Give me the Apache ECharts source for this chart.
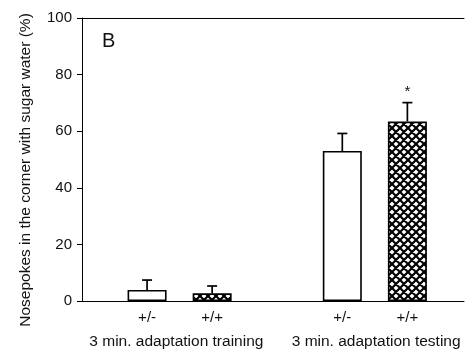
<!DOCTYPE html>
<html>
<head>
<meta charset="utf-8">
<script src="https://cdn.jsdelivr.net/npm/echarts@6/dist/echarts.min.js"></script>
<style>
    html, body { margin: 0; padding: 0; background: #fff; }
    #chart { width: 467px; height: 356px; }
</style>
</head>
<body>
<div id="chart"></div>
<script>
// data
const genotypes = ['+/-', '+/+', '+/-', '+/+']
const barPos = [1, 2, 4, 5]
const means = [3.9, 2.7, 53, 63.4]
const sems = [3.5, 2.6, 6.2, 6.7]
const stars = ['', '', '', '*']
const groups = ['3 min. adaptation training', '3 min. adaptation testing']
const groupPos = [1.45, 4.52]
const hatched = [false, true, false, true]

const FONT = '"Liberation Sans", Arial, sans-serif'
const INK = '#111'
const X_MAX = 5.87

// crosshatch fill for +/+ bars
const makeHatch = () => {
    const s = 8
    const c = document.createElement('canvas')
    c.width = s
    c.height = s
    const ctx = c.getContext('2d')
    ctx.fillStyle = '#fff'
    ctx.fillRect(0, 0, s, s)
    ctx.strokeStyle = '#000'
    ctx.lineWidth = 2.2
    ctx.beginPath()
    ctx.moveTo(-1, -1); ctx.lineTo(s + 1, s + 1)
    ctx.moveTo(s + 1, -1); ctx.lineTo(-1, s + 1)
    ctx.moveTo(s - 2, -2); ctx.lineTo(s + 2, 2)
    ctx.moveTo(-2, s - 2); ctx.lineTo(2, s + 2)
    ctx.moveTo(-2, 2); ctx.lineTo(2, -2)
    ctx.moveTo(s - 2, s + 2); ctx.lineTo(s + 2, s - 2)
    ctx.stroke()
    return c
}
const hatch = makeHatch()

const labelAt = (keys, names) => (val) => {
    const i = keys.findIndex(k => Math.abs(k - val) < 1e-6)
    return i > -1 ? names[i] : ''
}

const chart = echarts.init(document.getElementById('chart'))

const option = {
    animation: false,
    grid: { left: 82, right: 0, top: 18, bottom: 55 },
    xAxis: [
        {
            type: 'value',
            min: 0,
            max: X_MAX,
            interval: 1,
            position: 'bottom',
            splitLine: { show: false },
            axisLine: { lineStyle: { color: '#000', width: 1 } },
            axisTick: { show: false },
            axisLabel: {
                margin: 9,
                fontFamily: FONT,
                fontSize: 15,
                color: INK,
                formatter: labelAt(barPos, genotypes)
            }
        },
        {
            type: 'value',
            min: 0,
            max: X_MAX,
            position: 'bottom',
            offset: 26,
            splitLine: { show: false },
            axisLine: { show: false },
            axisTick: { show: false },
            axisLabel: { show: false }
        },
        {
            type: 'value',
            min: 0,
            max: X_MAX,
            position: 'top',
            splitLine: { show: false },
            axisLine: { lineStyle: { color: '#000', width: 1 } },
            axisTick: { show: false },
            axisLabel: { show: false }
        }
    ],
    yAxis: {
        type: 'value',
        min: 0,
        max: 100,
        interval: 20,
        splitLine: { show: false },
        axisLine: { show: true, lineStyle: { color: '#000', width: 1 } },
        axisTick: { show: true, length: 5, lineStyle: { color: '#000' } },
        axisLabel: { margin: 10, fontFamily: FONT, fontSize: 15, color: INK }
    },
    graphic: [
        {
            type: 'text',
            left: 102,
            top: 31,
            style: { text: 'B', fontFamily: FONT, fontSize: 20, fill: INK }
        },
        {
            type: 'text',
            x: 26,
            y: 170,
            rotation: Math.PI / 2,
            style: {
                text: 'Nosepokes in the corner with sugar water (%)',
                fontFamily: FONT,
                fontSize: 15.5,
                fill: INK,
                align: 'center',
                verticalAlign: 'middle'
            }
        }
    ],
    series: [
        {
            type: 'bar',
            barWidth: 39,
            data: barPos.map((x, i) => ({
                value: [x, means[i]],
                itemStyle: {
                    color: hatched[i] ? { image: hatch, repeat: 'repeat' } : '#fff',
                    borderColor: '#000',
                    borderWidth: 1.6
                }
            }))
        },
        {
            // group captions under the genotype labels
            type: 'custom',
            xAxisIndex: 0,
            silent: true,
            clip: false,
            data: groupPos.map((x, i) => [x, 0, i]),
            renderItem: (params, api) => {
                const p = api.coord([api.value(0), 0])
                return {
                    type: 'text',
                    x: p[0],
                    y: p[1] + 41,
                    style: {
                        text: groups[api.value(2)],
                        fontFamily: FONT,
                        fontSize: 15.5,
                        fill: INK,
                        align: 'center',
                        verticalAlign: 'middle'
                    }
                }
            }
        },
        {
            type: 'custom',
            z: 5,
            clip: false,
            data: barPos.map((x, i) => [x, means[i], sems[i], i]),
            renderItem: (params, api) => {
                const x = api.value(0)
                const y = api.value(1)
                const e = api.value(2)
                const p0 = api.coord([x, y])
                const p1 = api.coord([x, y + e])
                const line = { stroke: '#000', lineWidth: 1.7 }
                const children = [
                    { type: 'line', shape: { x1: p0[0], y1: p0[1], x2: p1[0], y2: p1[1] }, style: line },
                    { type: 'line', shape: { x1: p1[0] - 5, y1: p1[1], x2: p1[0] + 5, y2: p1[1] }, style: line }
                ]
                const star = stars[api.value(3)]
                if (star) {
                    children.push({
                        type: 'text',
                        x: p1[0],
                        y: p1[1] - 11,
                        style: {
                            text: star,
                            fontFamily: FONT,
                            fontSize: 15,
                            fill: INK,
                            align: 'center',
                            verticalAlign: 'middle'
                        }
                    })
                }
                return { type: 'group', children }
            }
        }
    ]
}
chart.setOption(option)
</script>
</body>
</html>
